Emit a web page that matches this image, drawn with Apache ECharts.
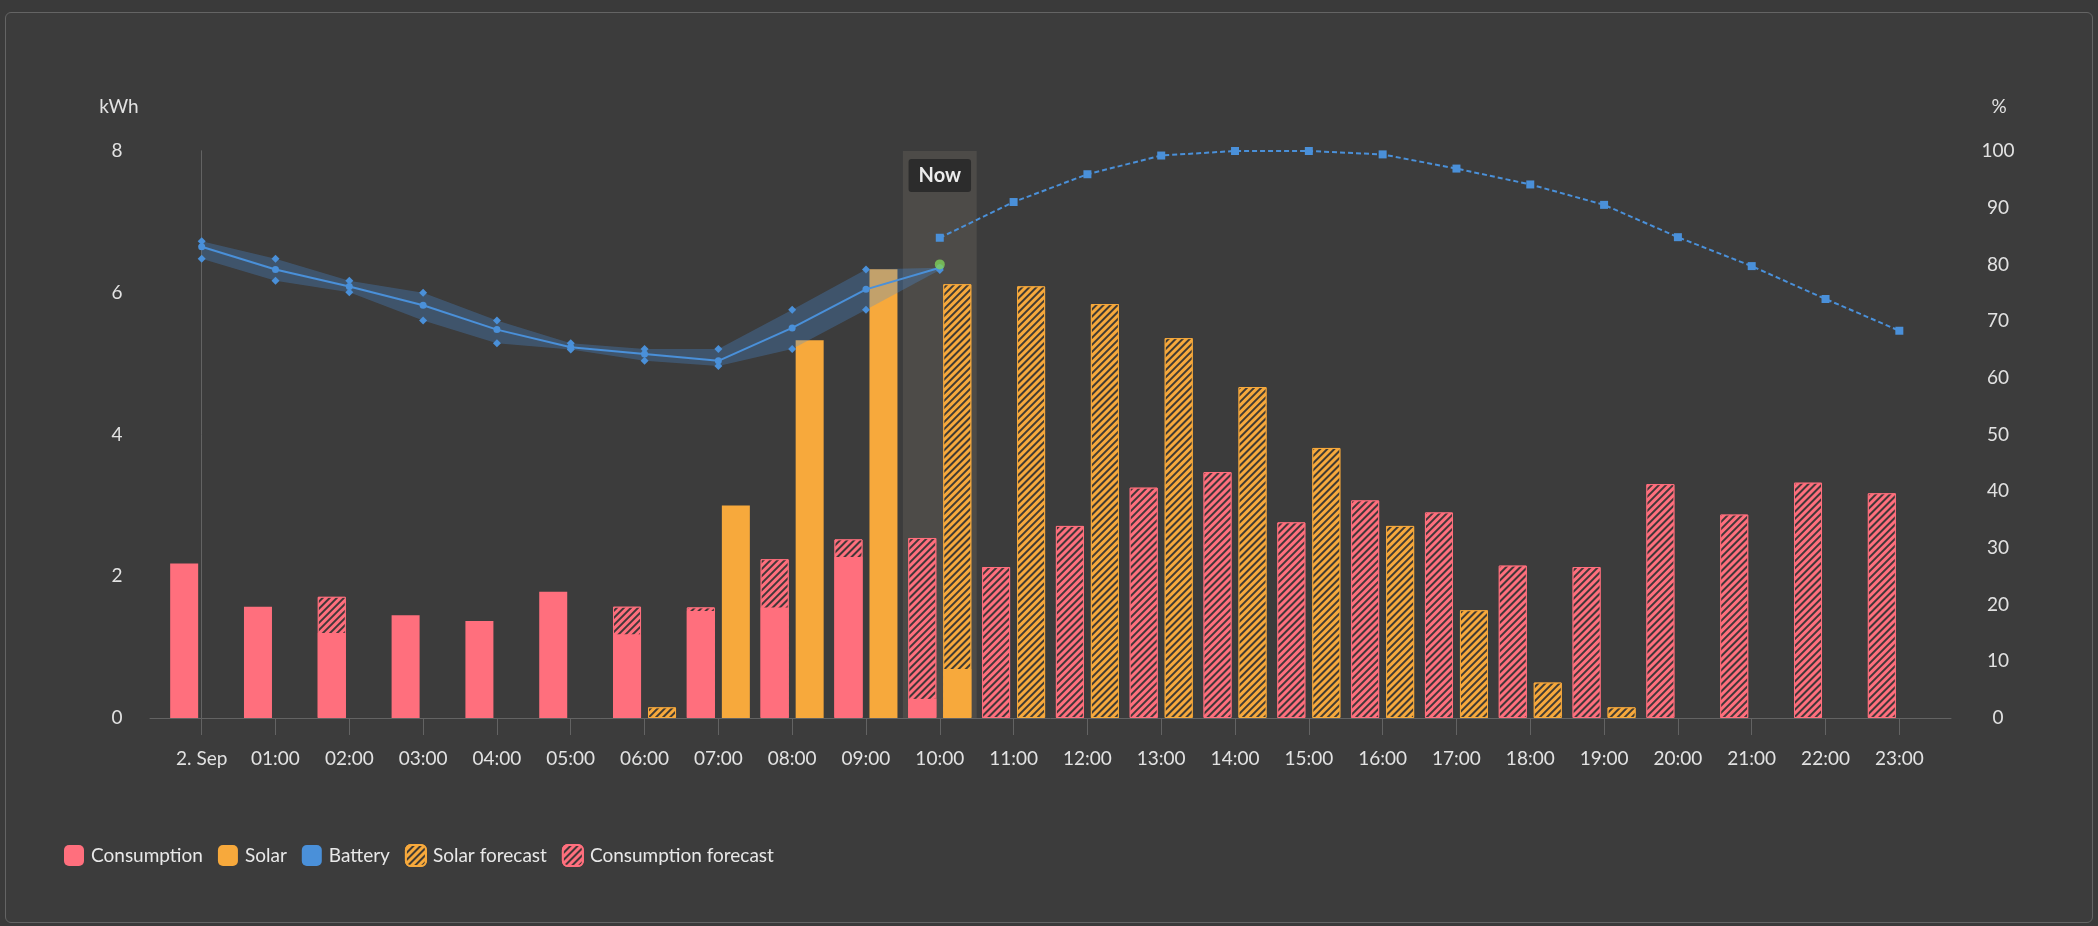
<!DOCTYPE html>
<html><head><meta charset="utf-8">
<script src="https://cdn.jsdelivr.net/npm/echarts@6/dist/echarts.min.js"></script>
<style>
html,body{margin:0;padding:0;background:#3a3a3a;}
#frame{position:absolute;left:5px;top:12px;width:2088px;height:911px;box-sizing:border-box;border:1px solid #646464;border-radius:6px;background:#3c3c3c;}
#c{position:absolute;left:0;top:0;width:2098px;height:926px;}
</style></head>
<body><div id="frame"></div><div id="c"></div>
<script>
const hourLabels = ['2. Sep','01:00','02:00','03:00','04:00','05:00','06:00','07:00','08:00','09:00','10:00','11:00','12:00','13:00','14:00','15:00','16:00','17:00','18:00','19:00','20:00','21:00','22:00','23:00'];
const consumption = [2.18,1.57,1.20,1.45,1.37,1.78,1.18,1.51,1.56,2.27,0.27,null,null,null,null,null,null,null,null,null,null,null,null,null];
const consumptionForecast = [null,null,1.71,null,null,null,1.57,1.56,2.24,2.52,2.54,2.13,2.71,3.25,3.47,2.76,3.07,2.90,2.15,2.13,3.30,2.87,3.32,3.17];
const solar = [null,null,null,null,null,null,null,3.00,5.33,6.33,0.69,null,null,null,null,null,null,null,null,null,null,null,null,null];
const solarForecast = [null,null,null,null,null,null,0.15,null,null,null,6.12,6.09,5.84,5.36,4.67,3.81,2.71,1.52,0.50,0.15,null,null,null,null];
const batteryMid = [83.1,79.1,76.1,72.8,68.5,65.4,64.2,63.0,68.8,75.6,79.4];
const batteryHigh = [84.1,81.0,77.1,75.0,70.1,66.1,65.1,65.1,72.0,79.1,79.4];
const batteryLow = [81.0,77.1,75.1,70.1,66.1,65.0,63.0,62.1,65.1,72.0,79.0];
const batteryNow = [[10,80.0]];
const batteryForecastStart = 10;
const batteryForecast = [84.7,91.0,95.9,99.2,100,100,99.4,96.9,94.1,90.5,84.8,79.7,73.9,68.3];

const PINK = '#ff6f7d', ORANGE = '#f7a93c', BLUE = '#4a90d9';
const FONT = 'Lato';
const hours = hourLabels.map((_, i) => i);
const pairs = arr => arr.map((v, i) => [i, v]);

const hatch = {symbol:'rect', symbolSize:1, dashArrayX:[1,0], dashArrayY:[2,2.3], rotation:-Math.PI/4, color:'rgba(50,50,50,0.92)'};

const chart = echarts.init(document.getElementById('c'), null, {renderer:'canvas'});
const xBase = {
  type:'value', min:-0.7, max:23.7,
  splitLine:{show:false},
  axisLine:{lineStyle:{color:'#636363', width:1}},
  axisTick:{show:true, customValues:hours, length:17, lineStyle:{color:'#636363'}},
  axisLabel:{customValues:hours, formatter:v => hourLabels[Math.round(v)] || '', color:'#e2e2e2', fontSize:19, fontFamily:FONT, margin:31}
};
chart.setOption({
  backgroundColor:'transparent',
  textStyle:{fontFamily:FONT},
  animation:false,
  grid:{left:150, right:147, top:151, bottom:208, containLabel:false},
  graphic:[
    {type:'text', x:119, y:107, style:{text:'kWh', fill:'#e2e2e2', font:'19px Lato', align:'center', verticalAlign:'middle'}},
    {type:'text', x:1999, y:107, style:{text:'%', fill:'#e2e2e2', font:'19px Lato', align:'center', verticalAlign:'middle'}}
  ],
  legend:{
    left:64, top:844, padding:0, itemWidth:20, itemHeight:21, itemGap:15, icon:'roundRect',
    textStyle:{color:'#e8e8e8', fontSize:19, fontFamily:FONT, padding:[0,0,0,2]},
    data:['Consumption','Solar','Battery','Solar forecast','Consumption forecast']
  },
  xAxis:[xBase, Object.assign({}, xBase, {show:false})],
  yAxis:[
    {type:'value', min:0, max:8, interval:2, position:'left',
     axisLine:{show:true, lineStyle:{color:'#636363'}}, axisTick:{show:false}, splitLine:{show:false},
     axisLabel:{color:'#e2e2e2', fontSize:19, fontFamily:FONT, align:'center', margin:33}},
    {type:'value', min:0, max:100, interval:10, position:'right',
     axisLine:{show:true, lineStyle:{color:'#636363'}}, axisTick:{show:false}, splitLine:{show:false},
     axisLabel:{color:'#e2e2e2', fontSize:19, fontFamily:FONT, align:'center', margin:47}}
  ],
  series:[
    {name:'Consumption forecast', type:'bar', xAxisIndex:1, yAxisIndex:0, barWidth:28, barGap:'25%',
     data:pairs(consumptionForecast),
     itemStyle:{color:PINK, borderColor:PINK, borderWidth:1, decal:hatch},
     markArea:{silent:true, itemStyle:{color:'rgba(255,232,195,0.09)'},
       label:{show:true, position:'insideTop', distance:8, formatter:'Now', color:'#ececec', fontWeight:'bold', fontSize:20, fontFamily:FONT,
              backgroundColor:'#2c2c2c', padding:[7,10,6,10], borderRadius:3},
       data:[[{xAxis:9.5},{xAxis:10.5}]]}},
    {name:'Solar forecast', type:'bar', xAxisIndex:1, yAxisIndex:0, barWidth:28, barGap:'25%',
     data:pairs(solarForecast),
     itemStyle:{color:ORANGE, borderColor:ORANGE, borderWidth:1, decal:hatch}},
    {name:'Consumption', type:'bar', xAxisIndex:0, yAxisIndex:0, barWidth:28, barGap:'25%',
     data:pairs(consumption), itemStyle:{color:PINK}},
    {name:'Solar', type:'bar', xAxisIndex:0, yAxisIndex:0, barWidth:28, barGap:'25%',
     data:pairs(solar), itemStyle:{color:ORANGE}},
    {name:'Battery range', type:'custom', xAxisIndex:0, yAxisIndex:1, z:3, silent:true,
     data:[[0,0]],
     renderItem:(params, api) => {
       const pts = [];
       batteryHigh.forEach((v, i) => pts.push(api.coord([i, v])));
       for (let i = batteryLow.length - 1; i >= 0; i--) pts.push(api.coord([i, batteryLow[i]]));
       return {type:'polygon', shape:{points:pts}, style:{fill:'rgba(74,144,217,0.3)'}};
     }},
    {name:'Battery high', type:'line', xAxisIndex:0, yAxisIndex:1, z:4, data:pairs(batteryHigh),
     symbol:'diamond', symbolSize:8, showAllSymbol:true, lineStyle:{opacity:0}, itemStyle:{color:BLUE}},
    {name:'Battery low', type:'line', xAxisIndex:0, yAxisIndex:1, z:4, data:pairs(batteryLow),
     symbol:'diamond', symbolSize:8, showAllSymbol:true, lineStyle:{opacity:0}, itemStyle:{color:BLUE}},
    {name:'Battery', type:'line', xAxisIndex:0, yAxisIndex:1, z:5, data:pairs(batteryMid),
     symbol:'circle', symbolSize:7, showAllSymbol:true, lineStyle:{color:BLUE, width:2}, itemStyle:{color:BLUE}},
    {name:'Battery forecast', type:'line', xAxisIndex:0, yAxisIndex:1, z:5,
     data:batteryForecast.map((v, i) => [batteryForecastStart + i, v]),
     symbol:'rect', symbolSize:8, showAllSymbol:true, lineStyle:{color:BLUE, width:2, type:[5,3]}, itemStyle:{color:BLUE}},
    {name:'Battery now', type:'scatter', xAxisIndex:0, yAxisIndex:1, z:6, data:batteryNow,
     symbol:'circle', symbolSize:10, itemStyle:{color:'#7ed05a'}}
  ]
});
</script></body></html>
